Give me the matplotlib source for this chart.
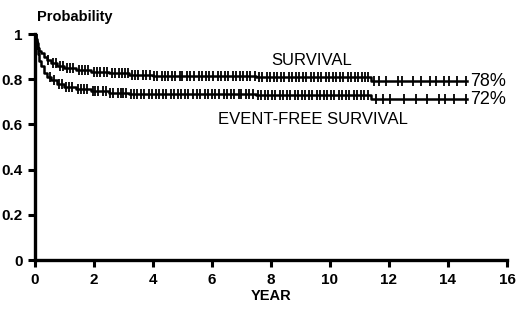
import numpy as np
import matplotlib
matplotlib.use("Agg")
import matplotlib.pyplot as plt

plt.rcParams['font.family'] = ['Liberation Sans', 'DejaVu Sans']

# step curves (time in years, probability)
os_times = [0, 0.03, 0.06, 0.1, 0.15, 0.2, 0.3, 0.4, 0.55, 0.75, 1.0, 1.4, 1.9, 2.5,
            3.2, 4.0, 5.5, 7.5, 9.5, 11.4, 14.65]
os_probs = [1, 0.98, 0.96, 0.94, 0.925, 0.915, 0.90, 0.885, 0.87, 0.857, 0.848, 0.84,
            0.833, 0.827, 0.821, 0.816, 0.813, 0.811, 0.809, 0.792, 0.792]

efs_times = [0, 0.03, 0.06, 0.1, 0.15, 0.2, 0.3, 0.4, 0.55, 0.75, 1.0, 1.4, 1.9, 2.5,
             3.2, 4.0, 5.5, 7.5, 9.5, 11.4, 14.65]
efs_probs = [1, 0.97, 0.94, 0.91, 0.88, 0.86, 0.83, 0.81, 0.795, 0.78, 0.768, 0.755,
             0.747, 0.740, 0.737, 0.735, 0.733, 0.731, 0.729, 0.711, 0.711]

# censoring marks
os_cens = [0.45, 0.6, 0.7, 0.85, 0.95, 1.1, 1.2, 1.3, 1.5, 1.6, 1.7, 1.8, 2.0, 2.1,
           2.2, 2.35, 2.45, 2.6, 2.7, 2.85, 2.95, 3.05, 3.15, 3.3, 3.4, 3.5, 3.65,
           3.75, 3.9, 4.05, 4.15, 4.3, 4.4, 4.5, 4.65, 4.75, 4.9, 5.0, 5.15, 5.25,
           5.4, 5.55, 5.65, 5.8, 5.9, 6.05, 6.2, 6.3, 6.45, 6.55, 6.7, 6.8, 6.95,
           7.05, 7.2, 7.3, 7.45, 7.6, 7.7, 7.85, 7.95, 8.1, 8.2, 8.35, 8.45, 8.6,
           8.7, 8.85, 8.95, 9.1, 9.2, 9.35, 9.45, 9.6, 9.7, 9.85, 9.95, 10.1, 10.2,
           10.35, 10.45, 10.6, 10.7, 10.85, 10.95, 11.1, 11.2, 11.3, 11.5, 11.65,
           11.9, 12.3, 12.45, 12.8, 13.1, 13.4, 13.6, 13.85, 14.05, 14.3, 14.6]
efs_cens = [0.5, 0.65, 0.8, 0.9, 1.05, 1.15, 1.25, 1.45, 1.55, 1.65, 1.75, 1.95, 2.05,
            2.15, 2.3, 2.4, 2.55, 2.65, 2.8, 2.9, 3.0, 3.1, 3.25, 3.35, 3.45, 3.6,
            3.7, 3.85, 3.95, 4.1, 4.2, 4.35, 4.45, 4.6, 4.7, 4.85, 4.95, 5.1, 5.2,
            5.35, 5.5, 5.6, 5.75, 5.85, 6.0, 6.1, 6.25, 6.4, 6.5, 6.65, 6.75, 6.9,
            7.0, 7.15, 7.25, 7.4, 7.55, 7.65, 7.8, 7.9, 8.05, 8.15, 8.3, 8.4, 8.55,
            8.65, 8.8, 8.9, 9.05, 9.15, 9.3, 9.4, 9.55, 9.65, 9.8, 9.9, 10.05, 10.15,
            10.3, 10.4, 10.55, 10.65, 10.8, 10.9, 11.05, 11.15, 11.3, 11.55, 11.8,
            12.05, 12.5, 12.9, 13.3, 13.7, 13.9, 14.2, 14.6]

xticks = [0, 2, 4, 6, 8, 10, 12, 14, 16]
yticks = [0, 0.2, 0.4, 0.6, 0.8, 1]
ylabels = ['0', '0.2', '0.4', '0.6', '0.8', '1']


def step_value(times, probs, t):
    idx = np.searchsorted(times, t, side='right') - 1
    return np.array(probs)[idx]


fig = plt.figure(figsize=(5.2, 3.22), dpi=100)
ax = fig.add_axes([0.0673, 0.1925, 0.9077, 0.7015])

for times, probs, cens in [(os_times, os_probs, os_cens), (efs_times, efs_probs, efs_cens)]:
    ax.step(times, probs, where='post', color='black', lw=1.8)
    ax.plot(cens, step_value(times, probs, cens), linestyle='none', marker='|',
            color='black', markersize=6.5, markeredgewidth=1.3)

ax.set_xlim(0, 16)
ax.set_ylim(0, 1)
ax.set_xticks(xticks)
ax.set_xticklabels([str(v) for v in xticks], fontweight='bold', fontsize=11)
ax.set_yticks(yticks)
ax.set_yticklabels(ylabels, fontweight='bold', fontsize=11)
ax.tick_params(direction='out', length=5, width=2.2, pad=4)
for side in ['top', 'right']:
    ax.spines[side].set_visible(False)
for side in ['left', 'bottom']:
    ax.spines[side].set_linewidth(2.4)

ax.set_xlabel('YEAR', fontweight='bold', fontsize=10.5, labelpad=2)
fig.text(0.071, 0.935, 'Probability', fontweight='bold', fontsize=10.5)

ax.text(8.0, 0.885, 'SURVIVAL', fontsize=12, va='center')
ax.text(6.2, 0.62, 'EVENT-FREE SURVIVAL', fontsize=12, va='center')
ax.text(14.75, 0.792, '78%', fontsize=13, va='center')
ax.text(14.75, 0.711, '72%', fontsize=13, va='center')

fig.savefig('out.png', dpi=100, facecolor='white')
